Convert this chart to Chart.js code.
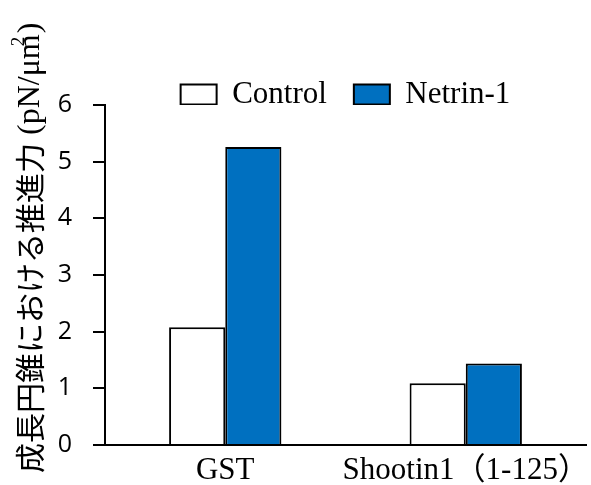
<!DOCTYPE html>
<html>
<head>
<meta charset="utf-8">
<script src="https://cdn.jsdelivr.net/npm/chart.js@4"></script>
<style>
  body { margin: 0; background: #fff; }
  #wrap { width: 591px; height: 485px; }
</style>
</head>
<body>
<div id="wrap"><canvas id="myBarChart" width="591" height="485"></canvas></div>
<script>
var categories = ['GST', 'Shootin1（1-125）'];
var seriesNames = ['Control', 'Netrin-1'];
var controlValues = [2.08, 1.09];
var netrinValues = [5.26, 1.44];
var yTickValues = [0, 1, 2, 3, 4, 5, 6];

// vertical axis title: japanese part in sans, unit part in serif
var yTitlePlugin = {
  id: 'yTitle',
  beforeLayout: function (chart) {
    // pull the plot up closer to the legend
    var lg = chart.legend;
    if (lg && !lg._shrunk) {
      var origFit = lg.fit;
      lg.fit = function () {
        origFit.call(this);
        this.height -= 15;
      };
      lg._shrunk = true;
    }
  },
  afterDraw: function (chart) {
    var ctx = chart.ctx;
    ctx.save();
    ctx.translate(30, 473);
    ctx.rotate(-Math.PI / 2);
    ctx.fillStyle = '#000';
    ctx.textBaseline = 'middle';
    ctx.textAlign = 'left';
    ctx.font = '30px "Noto Sans CJK JP"';
    var p1 = '成長円錐における推進力';
    ctx.fillText(p1, 0, 0);
    var x = ctx.measureText(p1).width + 8;
    ctx.font = '32px "Liberation Serif"';
    var p2 = '(pN/μm';
    ctx.fillText(p2, x, 1);
    x += ctx.measureText(p2).width;
    ctx.font = '19px "Liberation Serif"';
    ctx.fillText('2', x - 12, -11);
    ctx.font = '32px "Liberation Serif"';
    ctx.fillText(')', x + 1, 1);
    ctx.restore();
  }
};

document.addEventListener('DOMContentLoaded', function () {
  var ctx = document.getElementById('myBarChart').getContext('2d');
  new Chart(ctx, {
    type: 'bar',
    data: {
      labels: categories,
      datasets: [{
        label: seriesNames[0],
        data: controlValues,
        backgroundColor: '#ffffff',
        borderColor: '#000000',
        borderWidth: 2
      }, {
        label: seriesNames[1],
        data: netrinValues,
        backgroundColor: '#0070C0',
        borderColor: '#000000',
        borderWidth: 2
      }]
    },
    options: {
      responsive: false,
      animation: false,
      layout: { padding: { top: 52, right: 5, left: 0, bottom: 0 } },
      datasets: { bar: { categoryPercentage: 0.467, barPercentage: 1 } },
      scales: {
        x: {
          grid: { display: false, drawTicks: false },
          border: { color: '#000', width: 2 },
          ticks: {
            color: '#000',
            padding: 7,
            maxRotation: 0,
            minRotation: 0,
            autoSkip: false,
            font: { family: '"Liberation Serif", "Noto Sans CJK JP"', size: 31 }
          },
          afterFit: function (scale) {
            scale.height = 40;
            scale.paddingLeft = 0;
            scale.paddingRight = 0;
          }
        },
        y: {
          min: 0,
          max: 6,
          afterBuildTicks: function (scale) {
            scale.ticks = yTickValues.map(function (v) { return { value: v }; });
          },
          grid: { drawOnChartArea: false, tickLength: 12, color: '#000', lineWidth: 2 },
          border: { color: '#000', width: 2 },
          ticks: {
            color: '#000',
            padding: 21,
            font: { family: '"Open Sans"', size: 25 }
          },
          afterFit: function (scale) { scale.width = 105; }
        }
      },
      plugins: {
        legend: {
          position: 'top',
          fullSize: false,
          labels: {
            color: '#000',
            boxWidth: 36,
            boxHeight: 20,
            padding: 27,
            font: { family: '"Liberation Serif"', size: 31 }
          }
        },
        tooltip: { enabled: false }
      }
    },
    plugins: [yTitlePlugin]
  });
});
</script>
</body>
</html>
